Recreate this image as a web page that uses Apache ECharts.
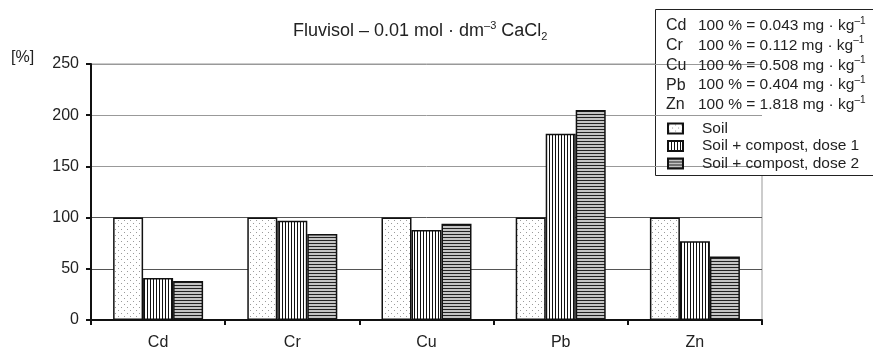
<!DOCTYPE html>
<html lang="en">
<head>
    <meta charset="UTF-8">
    <title>Fluvisol - CaCl2</title>
    <style>
        html, body { margin: 0; padding: 0; background: #fff; }
        #main { width: 873px; height: 354px; }
    </style>
</head>
<body>
<div id="main"></div>
<script src="https://cdn.jsdelivr.net/npm/echarts@6/dist/echarts.min.js"></script>
<script>
// data
var categories = ['Cd', 'Cr', 'Cu', 'Pb', 'Zn'];
var soil = [100, 100, 100, 100, 100];
var dose1 = [41, 97, 88, 182, 77];
var dose2 = [38, 84, 94, 205, 62];
var seriesNames = ['Soil', 'Soil + compost, dose 1', 'Soil + compost, dose 2'];
var refValues = ['0.043', '0.112', '0.508', '0.404', '1.818'];

var FONT = '"Liberation Sans", Arial, sans-serif';

// fill patterns
function makePattern(w, h, draw) {
    var c = document.createElement('canvas');
    c.width = w;
    c.height = h;
    var ctx = c.getContext('2d');
    draw(ctx);
    return { image: c, repeat: 'repeat' };
}
var dotPattern = makePattern(6, 6, function (ctx) {
    ctx.fillStyle = '#fff';
    ctx.fillRect(0, 0, 6, 6);
    ctx.fillStyle = '#9a9a9a';
    ctx.fillRect(1, 1, 1, 1);
    ctx.fillRect(4, 4, 1, 1);
});
var vertPattern = makePattern(3, 1, function (ctx) {
    ctx.fillStyle = '#fff';
    ctx.fillRect(0, 0, 3, 1);
    ctx.fillStyle = '#111';
    ctx.fillRect(0, 0, 1, 1);
});
var horzPattern = makePattern(1, 3, function (ctx) {
    ctx.fillStyle = '#c4c4c4';
    ctx.fillRect(0, 0, 1, 3);
    ctx.fillStyle = '#222';
    ctx.fillRect(0, 0, 1, 1);
});
var patterns = [dotPattern, vertPattern, horzPattern];
var values = [soil, dose1, dose2];

var series = [];
for (var i = 0; i < 3; i ++) {
    series.push({
        name: seriesNames[i],
        type: 'bar',
        barWidth: 30,
        barGap: '0%',
        data: values[i],
        itemStyle: {
            color: patterns[i],
            borderColor: '#111',
            borderWidth: 1.5
        },
        emphasis: { disabled: true }
    });
}

// title, unit label and the legend box text lines
var graphics = [
    {
        type: 'text', left: 11, top: 50,
        style: { text: '[%]', font: '16px ' + FONT, fill: '#222' }
    },
    {
        type: 'text', left: 293, top: 20,
        style: {
            text: '{t|Fluvisol – 0.01 mol · dm}{sup|–3}{t| CaCl}{sub|2}',
            fill: '#222',
            rich: {
                t: { fontSize: 18, fontFamily: FONT, lineHeight: 22 },
                sup: { fontSize: 11, fontFamily: FONT, lineHeight: 11, verticalAlign: 'top' },
                sub: { fontSize: 11, fontFamily: FONT, lineHeight: 11, verticalAlign: 'bottom' }
            }
        }
    },
    {
        type: 'rect', left: 655, top: 9,
        shape: { width: 230, height: 166 },
        style: { fill: '#fff', stroke: '#222', lineWidth: 1 },
        z: 0
    }
];
for (var k = 0; k < categories.length; k ++) {
    graphics.push({
        type: 'text', left: 666, top: 18 + k * 19.7, z: 10,
        style: { text: categories[k], font: '16px ' + FONT, fill: '#222' }
    });
    graphics.push({
        type: 'text', left: 698, top: 16 + k * 19.7, z: 10,
        style: {
            text: '{t|100 % = ' + refValues[k] + ' mg · kg}{sup|–1}',
            fill: '#222',
            rich: {
                t: { fontSize: 15.5, fontFamily: FONT, lineHeight: 20 },
                sup: { fontSize: 10, fontFamily: FONT, lineHeight: 10, verticalAlign: 'top' }
            }
        }
    });
}

var myChart = echarts.init(document.getElementById('main'), null, { renderer: 'canvas' });

var option = {
    animation: false,
    textStyle: { fontFamily: FONT },
    grid: {
        left: 91,
        right: 111,
        top: 64,
        bottom: 34,
        show: true,
        borderColor: '#999',
        borderWidth: 1
    },
    legend: {
        orient: 'vertical',
        left: 667,
        top: 120,
        padding: 0,
        icon: 'rect',
        itemWidth: 15,
        itemHeight: 10,
        itemGap: 0.5,
        selectedMode: false,
        textStyle: { fontSize: 15.5, lineHeight: 17, color: '#222', fontFamily: FONT, padding: [0, 0, 0, 14] },
        data: seriesNames,
        z: 20
    },
    xAxis: {
        type: 'category',
        data: categories,
        axisLine: { lineStyle: { color: '#111', width: 2 } },
        axisTick: { show: true, length: 5, lineStyle: { color: '#111', width: 2 } },
        axisLabel: { fontSize: 16, color: '#222', margin: 15 }
    },
    yAxis: {
        type: 'value',
        min: 0,
        max: 250,
        interval: 50,
        axisLine: { show: true, lineStyle: { color: '#111', width: 2 } },
        axisTick: { show: true, length: 5, lineStyle: { color: '#111', width: 2 } },
        axisLabel: { fontSize: 16, color: '#222', margin: 12 },
        splitLine: {
            show: true,
            lineStyle: { color: ['#555', '#555', '#555', '#999', '#999', '#999'], width: 1 }
        }
    },
    graphic: graphics,
    series: series
};

myChart.setOption(option);
</script>
</body>
</html>
